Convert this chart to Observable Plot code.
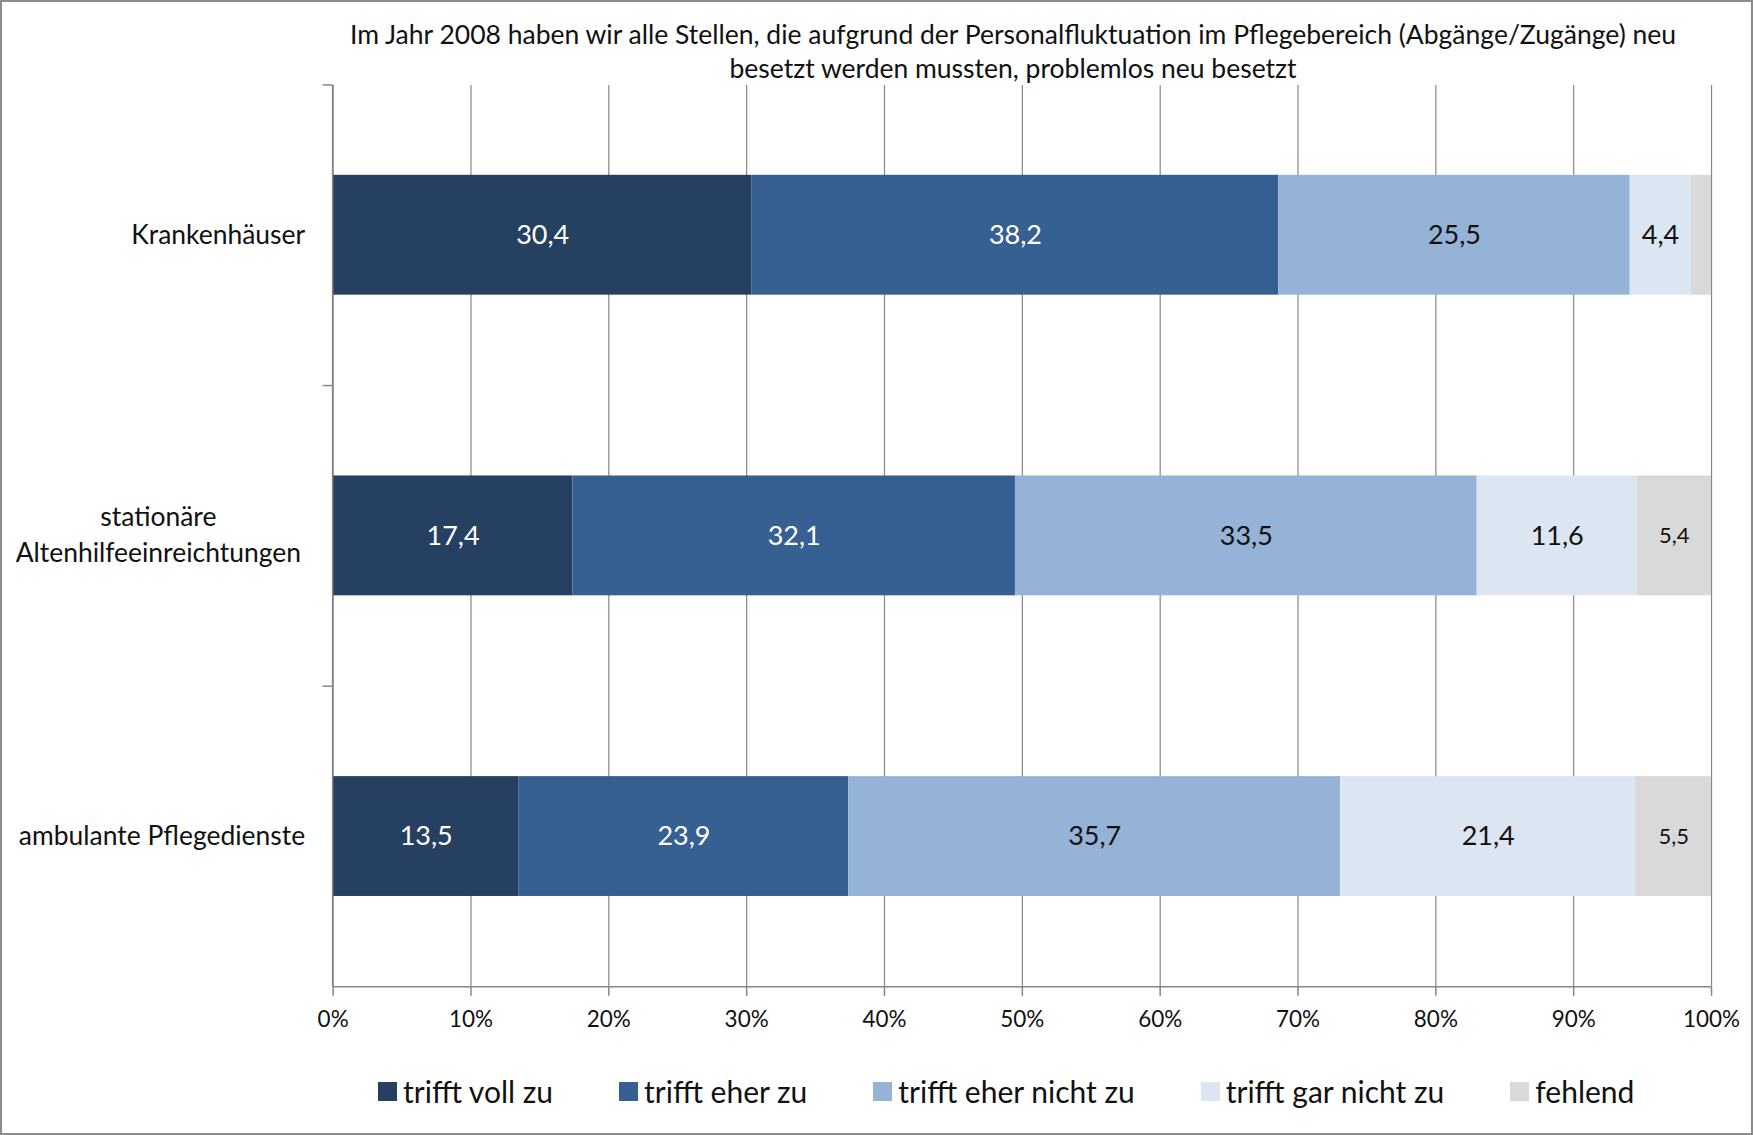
<!DOCTYPE html>
<html>
<head>
<meta charset="utf-8">
<script src="https://cdn.jsdelivr.net/npm/d3@7"></script>
<script src="https://cdn.jsdelivr.net/npm/@observablehq/plot@0.6"></script>
<style>
  html, body { margin: 0; padding: 0; background: #fff; }
  #wrap { position: relative; width: 1753px; height: 1135px; box-sizing: border-box; border: 2px solid #8c8c8c; overflow: hidden; font-family: Lato, "Open Sans", sans-serif; }
  #title { position: absolute; left: 250px; width: 1522px; top: 15px; text-align: center; font-size: 26.5px; line-height: 34px; color: #111; }
  #chart { position: absolute; left: -2px; top: -2px; }
  #legend { position: absolute; left: 0; top: 1071px; display: flex; justify-content: flex-start; gap: 66px; font-size: 30px; color: #111; padding-left: 376px; box-sizing: border-box; white-space: nowrap; }
  .item { display: flex; align-items: center; gap: 6px; }
  .sw { width: 19px; height: 19px; display: inline-block; }
</style>
</head>
<body>
<div id="wrap">
  <div id="title"></div>
  <div id="chart"></div>
  <div id="legend"></div>
</div>
<script>
const titleLines = ["Im Jahr 2008 haben wir alle Stellen, die aufgrund der Personalfluktuation im Pflegebereich (Abgänge/Zugänge) neu", "besetzt werden mussten, problemlos neu besetzt"];
const categories = ["Krankenhäuser", "stationäre\nAltenhilfeeinreichtungen", "ambulante Pflegedienste"];
const responses = ["trifft voll zu", "trifft eher zu", "trifft eher nicht zu", "trifft gar nicht zu", "fehlend"];
const colors = ["#254061", "#376092", "#95b3d7", "#dce6f2", "#d9d9d9"];
const krankenhaeuser = [30.4, 38.2, 25.5, 4.4, 1.5];
const stationaer = [17.4, 32.1, 33.5, 11.6, 5.4];
const ambulant = [13.5, 23.9, 35.7, 21.4, 5.5];
const showLabel = [[true, true, true, true, false], [true, true, true, true, true], [true, true, true, true, true]];
const xTicks = [0, 10, 20, 30, 40, 50, 60, 70, 80, 90, 100];

const series = [krankenhaeuser, stationaer, ambulant];
const data = [];
series.forEach((vals, ci) => vals.forEach((v, ri) => data.push({
  category: categories[ci], response: responses[ri], ri, value: v, show: showLabel[ci][ri]
})));
const fmt = d => d.toFixed(1).replace(".", ",");

document.getElementById("title").innerHTML = titleLines.join("<br>");

const W = 1753, H = 1135, mL = 333, mR = 40, mT = 85, mB = 147;
const axisColor = "#868686";

function frameLines(index, scales, values, dims) {
  const g = d3.create("svg:g").attr("stroke", axisColor).attr("stroke-width", 1.5).attr("fill", "none");
  const top = dims.marginTop, bottom = dims.height - dims.marginBottom;
  const left = dims.marginLeft, right = dims.width - dims.marginRight;
  g.append("line").attr("x1", left).attr("x2", left).attr("y1", top).attr("y2", bottom);
  g.append("line").attr("x1", left).attr("x2", right).attr("y1", bottom).attr("y2", bottom);
  const n = categories.length;
  for (let i = 0; i < n; i++) {
    const y = top + i * (bottom - top) / n;
    g.append("line").attr("x1", left - 10).attr("x2", left).attr("y1", y).attr("y2", y);
  }
  return g.node();
}

const labelMark = (cond, fill, fontSize) =>
  Plot.text(data, Plot.stackX({ x: "value", y: "category", text: d => (d.show && cond(d)) ? fmt(d.value) : null, fill, fontSize }));

const plot = Plot.plot({
  width: W, height: H,
  marginLeft: mL, marginRight: mR, marginTop: mT, marginBottom: mB,
  style: { fontFamily: "Lato, 'Open Sans', sans-serif", background: "transparent", color: "#111" },
  x: { domain: [0, 100], ticks: xTicks, tickFormat: d => d + "%", label: null },
  y: { domain: categories, paddingInner: 0.6, paddingOuter: 0.3, label: null, axis: null },
  color: { domain: responses, range: colors },
  marks: [
    Plot.gridX(xTicks, { stroke: axisColor, strokeOpacity: 1, strokeWidth: 1.2 }),
    Plot.barX(data, { x: "value", y: "category", fill: "response" }),
    labelMark(d => d.ri < 2, "white", 27),
    labelMark(d => d.ri >= 2 && d.ri < 4, "#111", 27),
    labelMark(d => d.ri === 4, "#111", 22),
    frameLines,
    Plot.axisX(xTicks, { anchor: "bottom", tickSize: 9, tickPadding: 15, tickFormat: d => d + "%", fontSize: 22.5, stroke: axisColor, strokeWidth: 1.5, fill: "#111" }),
    Plot.text(categories.filter(c => !c.includes("\n")), { y: d => d, frameAnchor: "left", textAnchor: "end", dx: -28, text: d => d, fontSize: 26.5, fill: "#111" }),
    Plot.text(categories.filter(c => c.includes("\n")), { y: d => d, frameAnchor: "left", textAnchor: "middle", dx: -175, dy: -3, text: d => d, fontSize: 26.5, lineHeight: 1.36, fill: "#111" })
  ]
});
document.getElementById("chart").appendChild(plot);

const legend = document.getElementById("legend");
responses.forEach((r, i) => {
  const it = document.createElement("div");
  it.className = "item";
  it.innerHTML = `<span class="sw" style="background:${colors[i]}"></span><span>${r}</span>`;
  legend.appendChild(it);
});
</script>
</body>
</html>
